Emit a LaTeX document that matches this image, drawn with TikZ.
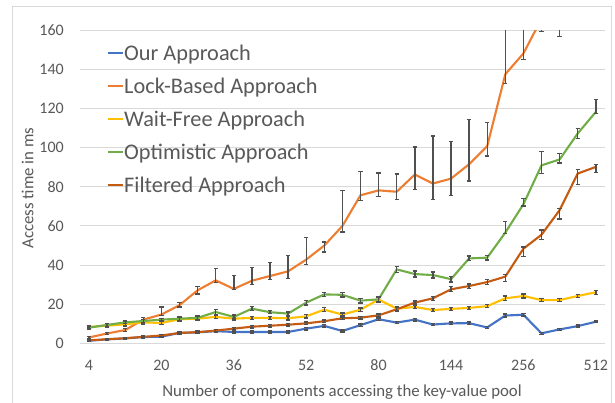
\documentclass[tikz,border=0pt]{standalone}
\usepackage{fontspec}
\setmainfont{Carlito}
\definecolor{cblue}{HTML}{4472C4}
\definecolor{corange}{HTML}{ED7D31}
\definecolor{cyellow}{HTML}{FFC000}
\definecolor{cgreen}{HTML}{70AD47}
\definecolor{cfilt}{HTML}{C55A11}
\definecolor{cgrid}{HTML}{D9D9D9}
\definecolor{ctext}{HTML}{595959}
\definecolor{cerr}{HTML}{505050}
\def\dblue{0/1.3/.5/.5,1/2.0/.5/.5,2/2.5/.5/.5,3/3.2/.5/.5,4/3.4/.5/.5,5/5.3/.5/.5,6/5.6/.5/.5,7/6.2/.5/.5,8/5.8/.5/.5,9/5.8/.5/.5,10/5.8/.5/.5,11/5.8/.5/.5,12/7.5/.6/.6,13/8.9/.6/.6,14/6.3/.5/.5,15/9.3/.6/.6,16/12.3/.6/.6,17/10.6/.6/.6,18/12.1/.6/.6,19/9.6/.6/.6,20/10.2/.6/.6,21/10.3/.6/.6,22/8.1/.6/.6,23/14.2/.7/.7,24/14.6/.7/.7,25/5.1/.5/.5,26/7.1/.5/.5,27/8.8/.5/.5,28/11/.5/.5}
\def\dorange{0/3/.5/.5,1/5/.6/.6,2/6.8/.8/.8,3/12.1/1.6/1.1,4/14.7/.4/3.9,5/19.5/1/1.5,6/27.1/1.8/1.9,7/32.2/1.2/6.1,8/27.8/.4/6.8,9/32/1.8/6.9,10/34.4/1.7/6.8,11/36.8/3.8/8,12/42.8/2.4/11.4,13/50/3.3/1.8,14/60/3/18,15/75.7/2.7/12.3,16/78.2/3.2/8.8,17/77.5/3.9/9.1,18/86.3/7.7/14.1,19/81.7/8.1/24.3,20/84.2/8.5/19.1,21/91.6/8.6/22.8,22/100.8/5/12.1,23/137.6/4.6/37,24/148.2/3.2/27,25/166/6.5/14,26/170/13/15,27/185/10/10,28/195/10/10}
\def\dyellow{0/8.4/.5/.5,1/9.0/.8/.8,2/9.7/.8/.8,3/10.7/.8/.8,4/10.4/.8/.8,5/12.3/.8/.8,6/12.6/.8/.8,7/13.5/.8/.8,8/12.6/.8/.8,9/13/.8/.8,10/13/.8/.8,11/12.8/.8/.8,12/13.8/.8/.8,13/17.2/1/1,14/14.7/.8/.8,15/17.2/.8/.8,16/22.4/1.5/1.5,17/17.7/.8/.8,18/18.6/.8/.8,19/17/.8/.8,20/17.6/.8/.8,21/18.1/.8/.8,22/19/.8/.8,23/23/1.2/1.2,24/24.2/1/1,25/22.1/.8/.8,26/22.1/.8/.8,27/24.2/.8/.8,28/26.1/1/1}
\def\dgreen{0/8/.6/.6,1/9.4/.7/.7,2/10.7/.7/.7,3/11.4/.8/.8,4/12.1/.7/.7,5/12.6/.8/.8,6/13/.9/.9,7/16/1.3/1.3,8/13.5/1/1,9/17.7/1/1,10/15.9/.8/.8,11/15.2/.9/.9,12/20.8/1.2/1.2,13/25/1/1,14/24.8/1.2/1.2,15/21.8/1.2/1.2,16/22.5/1.2/1.2,17/37.8/1.5/1.5,18/35.4/1.5/1.5,19/34.9/1.5/1.5,20/32.8/1.5/1.5,21/43.4/1.2/1.2,22/43.8/1.2/1.2,23/56.6/.5/5.8,24/71.1/.9/3,25/91/4.2/7,26/94/1.8/3,27/107.3/2.6/2.5,28/118.3/.7/6.5}
\def\dfilt{0/1.5/.4/.4,1/2.1/.4/.4,2/2.6/.4/.4,3/3.3/.4/.4,4/4.0/.5/.5,5/5.3/.5/.5,6/5.7/.5/.5,7/6.5/.6/.6,8/7.5/.6/.6,9/8.5/.6/.6,10/9/.6/.6,11/9.5/.6/.6,12/10.2/.6/.6,13/11.3/.6/.6,14/12.8/.7/.7,15/13.1/.7/.7,16/14.3/.7/.7,17/17.4/.8/.8,18/20.8/.8/.8,19/23/1/1,20/27.6/1/1.4,21/29.3/1.2/1,22/31.3/1.2/1.2,23/34.1/2.6/1.2,24/48.4/4/.9,25/55.5/2.3/2.4,26/68.1/4.6/.9,27/86.8/5.6/2.2,28/90.2/2.9/1.2}
\tikzset{
  grid/.style={cgrid, line width=1pt},
  serline/.style={line width=2.1pt, line join=round, line cap=round},
  ebar/.style={cerr, line width=1.4pt},
  ticklab/.style={text=ctext, font=\fontsize{16}{19}\selectfont, inner sep=0pt},
  axtitle/.style={text=ctext, font=\fontsize{16.8}{20}\selectfont, inner sep=0pt},
  legtext/.style={text=ctext, font=\fontsize{22.3}{26}\selectfont, inner sep=0pt, anchor=base west},
  legline/.style={line width=1.6pt},
}
\newcommand\drawseries[2]{%
  \draw[serline, #1] (0,0) \foreach \i/\v/\a/\b [count=\c] in #2 {\ifnum\c=1 (\i,\v)\else -- (\i,\v)\fi};
  \foreach \i/\v/\a/\b in #2 {
    \draw[ebar] (\i,\v-\a) -- (\i,\v+\b);
    \draw[ebar] (\i-0.12,\v-\a) -- (\i+0.12,\v-\a);
    \draw[ebar] (\i-0.12,\v+\b) -- (\i+0.12,\v+\b);
  }%
}
\begin{document}
\begin{tikzpicture}[x=1pt,y=-1pt]
\useasboundingbox (0,0) rectangle (615,403);
\fill[white] (0,0) rectangle (615,403);
\draw[cgrid, line width=1pt] (12.5,420) -- (12.5,6.5) -- (611.5,6.5) -- (611.5,420);
\begin{scope}[shift={(89,343.3)}, x=18.1pt, y=1.9555pt]
  \foreach \g in {0,20,...,160} {
    \draw[grid] (-0.5,\g) -- (28.5,\g);
    \node[ticklab, anchor=east] (yl\g) at (-1.38,\g) {\g};
  }
  \foreach \k/\lab in {0/4,4/20,8/36,12/52,16/80,20/144,24/256,28/512} {
    \node[ticklab, anchor=base] (xl\k) at (\k,-14.0) {\lab};
  }
  \begin{scope}
    \clip (-0.5,-5) rectangle (28.5,160);
    \drawseries{cblue}{\dblue}
    \drawseries{corange}{\dorange}
    \drawseries{cyellow}{\dyellow}
    \drawseries{cgreen}{\dgreen}
    \drawseries{cfilt}{\dfilt}
  \end{scope}
\end{scope}
\node[axtitle, anchor=base] (xtitle) at (342,396) {Number of components accessing the key-value pool};
\node[axtitle, anchor=base, rotate=90] (ytitle) at (33.3,188) {Access time in ms};
\foreach \n/\col/\txt [count=\k from 0] in {l1/cblue/Our Approach, l2/corange/Lock-Based Approach, l3/cyellow/Wait-Free Approach, l4/cgreen/Optimistic Approach, l5/cfilt/Filtered Approach} {
  \pgfmathsetmacro\by{60.7+33*\k}
  \coordinate (\n a) at (108,\by-7.8);
  \coordinate (\n b) at (122.7,\by-7.8);
  \draw[legline, \col] (\n a) -- (\n b);
  \node[legtext] (\n) at (124,\by) {\txt};
}
\end{tikzpicture}
\end{document}
